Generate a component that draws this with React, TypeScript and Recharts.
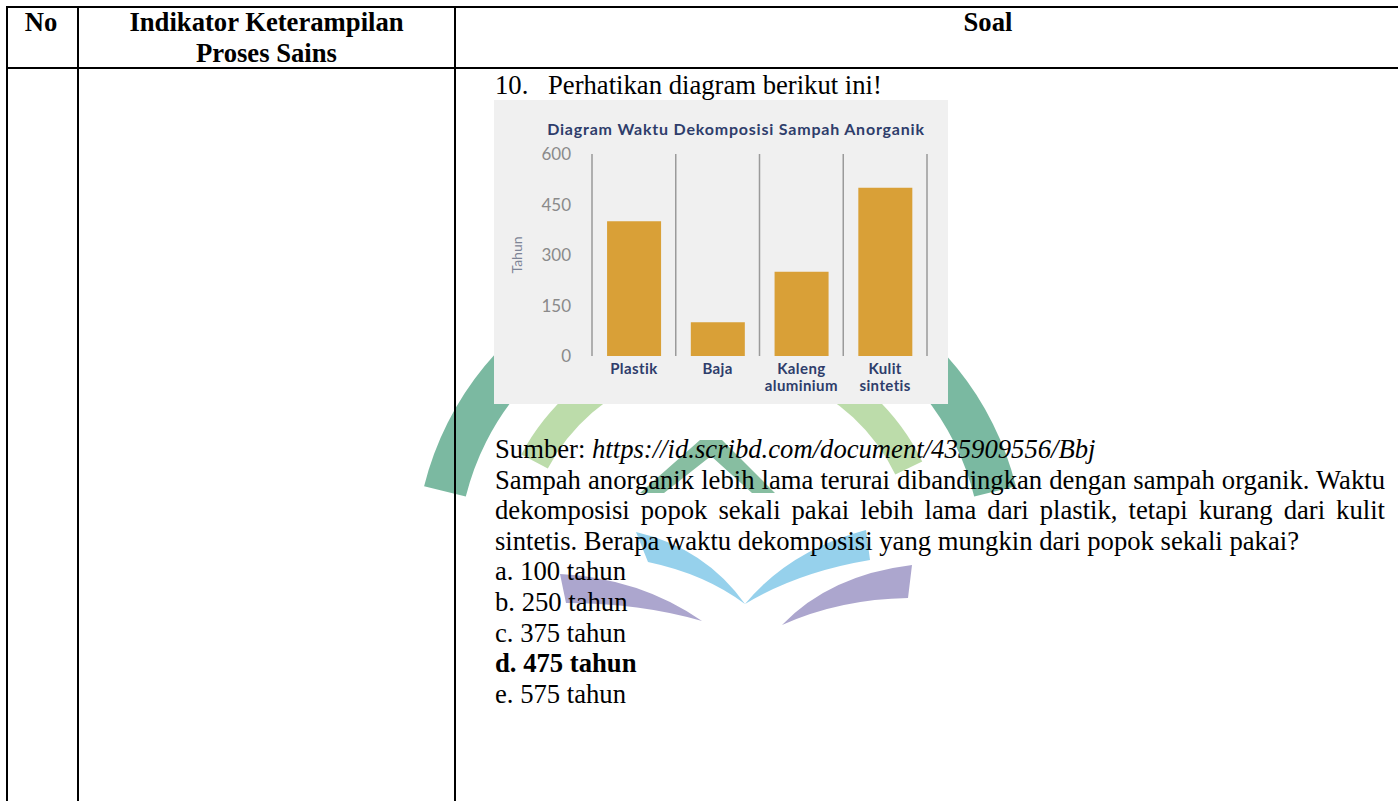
import React from 'react';
import { BarChart, Bar, XAxis, YAxis, CartesianGrid } from 'recharts';

// Waktu dekomposisi (tahun) per jenis sampah anorganik
const categories = ['Plastik', 'Baja', 'Kaleng aluminium', 'Kulit sintetis'];
const tahun = [400, 100, 250, 500];
const yTicks = [0, 150, 300, 450, 600];

const options = ['a. 100 tahun', 'b. 250 tahun', 'c. 375 tahun', 'd. 475 tahun', 'e. 575 tahun'];
const answerIndex = 3;

const data = categories.map((name, i) => ({ name, tahun: tahun[i] }));

const SERIF = '"Times New Roman", "Liberation Serif", serif';
const SANS = 'Lato, "Open Sans", sans-serif';
const NAVY = '#2e3d6b';
const BAR = '#d9a037';
const LINE = 2;

// ring segment around the emblem centre, angles in degrees (svg orientation)
function ring(cx: number, cy: number, r1: number, r2: number, a1: number, a2: number) {
  const p = (r: number, a: number) => {
    const t = (a * Math.PI) / 180;
    return `${(cx + r * Math.cos(t)).toFixed(1)} ${(cy + r * Math.sin(t)).toFixed(1)}`;
  };
  const large = a2 - a1 > 180 ? 1 : 0;
  return `M${p(r2, a1)} A${r2} ${r2} 0 ${large} 1 ${p(r2, a2)} L${p(r1, a2)} A${r1} ${r1} 0 ${large} 0 ${p(r1, a1)} Z`;
}

function Watermark() {
  const cx = 720;
  const cy = 560;
  return (
    <svg width={1398} height={801} style={{ position: 'absolute', left: 0, top: 0 }}>
      <g opacity={0.8}>
        <path d={ring(cx, cy, 262, 305, 194, 245)} fill="#5aa88a" />
        <path d={ring(cx, cy, 262, 305, 296, 346)} fill="#5aa88a" />
        <path d={ring(cx, cy, 195, 225, 208, 250)} fill="#acd495" />
        <path d={ring(cx, cy, 195, 225, 292, 334)} fill="#acd495" />
        <path d="M640 493 L700 440 L722 440 L775 493 L752 493 L711 456 L664 493 Z" fill="#6aae8a" />
        <path d="M636 532 Q705 548 745 604 Q705 574 648 562 Z" fill="#7cc6e8" />
        <path d="M866 530 Q790 550 745 604 Q798 572 870 560 Z" fill="#7cc6e8" />
        <path d="M560 574 Q640 578 702 621 Q640 603 566 603 Z" fill="#9890c2" />
        <path d="M912 565 Q830 575 782 625 Q840 599 908 598 Z" fill="#9890c2" />
      </g>
    </svg>
  );
}

function CategoryTick({ x, y, payload }: any) {
  const lines = String(payload.value).split(' ');
  return (
    <text
      x={x}
      y={y}
      textAnchor="middle"
      fill={NAVY}
      fontFamily={SANS}
      fontWeight={700}
      fontSize={15}
      letterSpacing={0.4}
    >
      {lines.map((l, i) => (
        <tspan key={l} x={x} dy={i === 0 ? '0.65em' : 17}>
          {l}
        </tspan>
      ))}
    </text>
  );
}

function DecompositionChart() {
  return (
    <div style={{ position: 'absolute', left: 494, top: 100, width: 454, height: 304, background: '#f0f0f0' }}>
      <div
        style={{
          position: 'absolute',
          left: 0,
          top: 19,
          width: 484,
          textAlign: 'center',
          fontFamily: SANS,
          fontWeight: 700,
          fontSize: 16,
          letterSpacing: 0.8,
          color: NAVY,
          whiteSpace: 'nowrap',
        }}
      >
        Diagram Waktu Dekomposisi Sampah Anorganik
      </div>
      <BarChart
        width={454}
        height={304}
        data={data}
        margin={{ top: 54, right: 21, bottom: 0, left: 0 }}
        barCategoryGap="18%"
      >
        <CartesianGrid
          horizontal={false}
          stroke="#9a9a9a"
          strokeWidth={1.5}
          verticalCoordinatesGenerator={({ offset }: any) =>
            [...categories.map((_, i) => i), categories.length].map(
              (i) => offset.left + (i * offset.width) / categories.length
            )
          }
        />
        <XAxis dataKey="name" axisLine={false} tickLine={false} height={48} tick={<CategoryTick />} interval={0} />
        <YAxis
          domain={[0, 600]}
          ticks={yTicks}
          width={98}
          axisLine={false}
          tickLine={false}
          tickMargin={15}
          tick={{ fill: '#8a8a8a', fontSize: 17, fontFamily: SANS }}
          label={{
            value: 'Tahun',
            angle: -90,
            position: 'insideLeft',
            offset: 23,
            style: { textAnchor: 'middle', fill: '#7d8496', fontSize: 14, fontFamily: SANS },
          }}
        />
        <Bar dataKey="tahun" fill={BAR} isAnimationActive={false} />
      </BarChart>
    </div>
  );
}

const hline = (top: number) => (
  <div style={{ position: 'absolute', left: 6, top, width: 1392, height: LINE, background: '#000' }} />
);
const vline = (left: number) => (
  <div style={{ position: 'absolute', left, top: 6, width: LINE, height: 795, background: '#000' }} />
);

export default function App() {
  const text: React.CSSProperties = {
    position: 'absolute',
    fontFamily: SERIF,
    fontSize: 26.67,
    lineHeight: '30.6px',
    color: '#000',
  };
  const head: React.CSSProperties = {
    ...text,
    fontWeight: 700,
    textAlign: 'center',
    top: 7,
  };
  return (
    <div style={{ position: 'absolute', left: 0, top: 0, width: 1398, height: 801, background: '#fff', overflow: 'hidden' }}>
      <Watermark />
      {hline(6)}
      {hline(67)}
      {vline(6)}
      {vline(77)}
      {vline(454)}

      <div style={{ ...head, left: 8, width: 66 }}>No</div>
      <div style={{ ...head, left: 79, width: 375 }}>
        Indikator Keterampilan
        <br />
        Proses Sains
      </div>
      <div style={{ ...head, left: 456, width: 1064 }}>Soal</div>

      <div style={{ ...text, left: 495, top: 70, whiteSpace: 'pre' }}>
        <span style={{ display: 'inline-block', width: 53 }}>10.</span>Perhatikan diagram berikut ini!
      </div>

      <DecompositionChart />

      <div style={{ ...text, left: 495, top: 434, width: 890, textAlign: 'justify' }}>
        <div>
          Sumber: <i>https://id.scribd.com/document/435909556/Bbj</i>
        </div>
        <div>
          Sampah anorganik lebih lama terurai dibandingkan dengan sampah organik. Waktu dekomposisi popok sekali pakai
          lebih lama dari plastik, tetapi kurang dari kulit sintetis. Berapa waktu dekomposisi yang mungkin dari popok
          sekali pakai?
        </div>
        {options.map((o, i) => (
          <div key={o} style={{ fontWeight: i === answerIndex ? 700 : 400 }}>
            {o}
          </div>
        ))}
      </div>
    </div>
  );
}
